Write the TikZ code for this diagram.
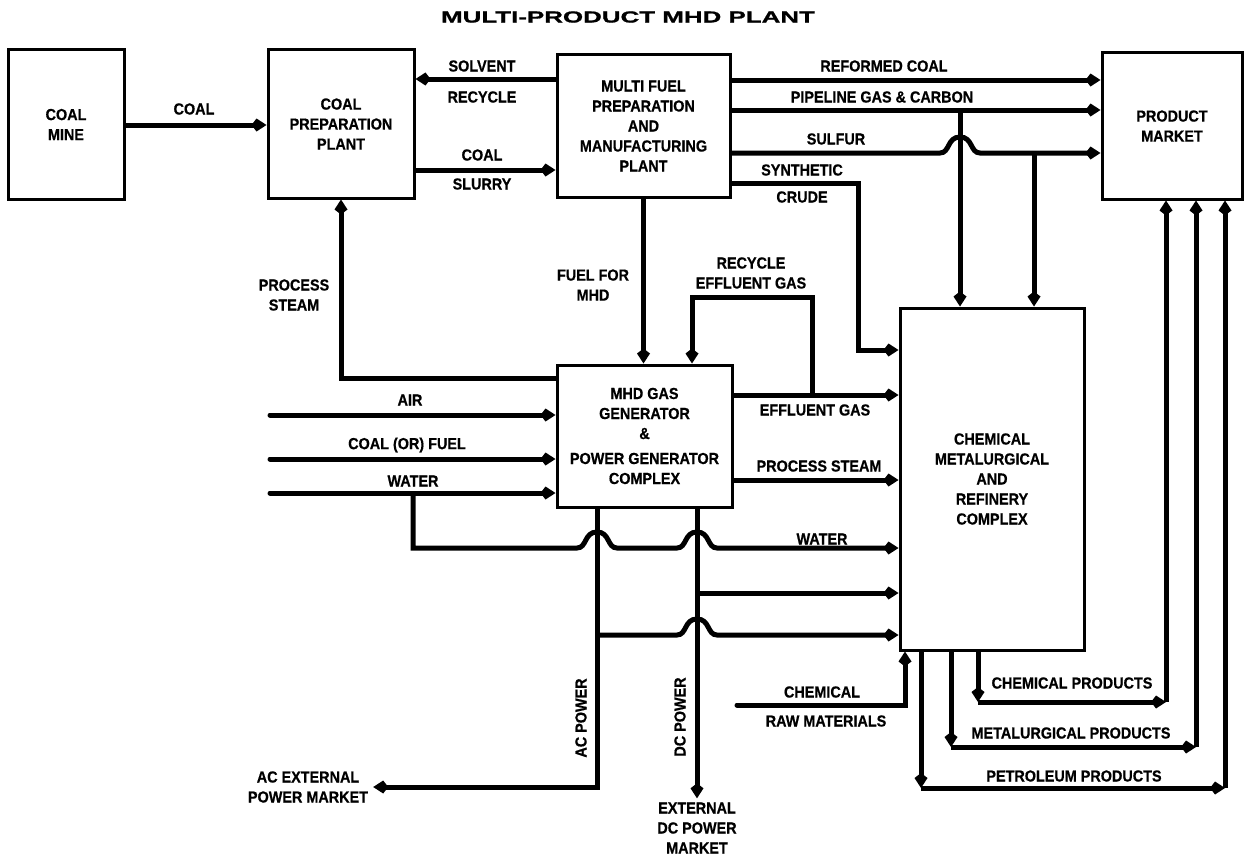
\documentclass[tikz,border=0pt]{standalone}
\usepackage{fontspec}
\setmainfont{Liberation Sans}[FakeStretch=0.9,FakeBold=0.6]
\newfontfamily\titlefont{Liberation Sans}[FakeStretch=1.62,FakeBold=1.2]
\usetikzlibrary{arrows.meta}
\newcommand\lbl{\bfseries\fontsize{16}{20}\selectfont}
\tikzset{
  box/.style={draw, line width=3pt, fill=white, align=center, inner sep=0pt, font=\lbl},
  lab/.style={font=\lbl, inner sep=0pt, align=center},
  wire/.style={line width=5pt, line join=miter},
  flow/.style={wire, -{Kite[length=15pt,width=13pt,inset=5pt]}},
  rflow/.style={flow, line cap=round},
}
\begin{document}
\begin{tikzpicture}[x=1pt,y=-1pt]
\fill[white] (0,0) rectangle (1247,859);
\useasboundingbox (0,0) rectangle (1247,859);

\node[font=\titlefont\bfseries\fontsize{16}{18}\selectfont] (title) at (628,17) {MULTI-PRODUCT MHD PLANT};

% boxes
\node[box,minimum width=116pt,minimum height=149pt] (mine) at (66,124.5) {COAL\\MINE};
\node[box,minimum width=146pt,minimum height=148pt] (prep) at (341,124) {COAL\\PREPARATION\\PLANT};
\node[box,minimum width=173pt,minimum height=142pt] (mfuel) at (643.5,126) {MULTI FUEL\\PREPARATION\\AND\\MANUFACTURING\\PLANT};
\node[box,minimum width=140pt,minimum height=146pt] (market) at (1172,126) {PRODUCT\\MARKET};
\node[box,minimum width=175pt,minimum height=142pt] (mhd) at (644.5,436) {MHD GAS\\GENERATOR\\\&\\[5pt]POWER GENERATOR\\COMPLEX};
\node[box,minimum width=184pt,minimum height=342pt] (chem) at (992,479) {CHEMICAL\\METALURGICAL\\AND\\REFINERY\\COMPLEX};

% coal
\draw[flow] (mine.east |- 0,125) -- (prep.west |- 0,125);
\node[lab] (lcoal) at (194,109) {COAL};
% solvent recycle
\draw[flow] (mfuel.west |- 0,79) -- (prep.east |- 0,79);
\node[lab] (lsolv) at (482,66) {SOLVENT};
\node[lab] (lrecy) at (482,97) {RECYCLE};
% coal slurry
\draw[flow] (prep.east |- 0,170) -- (mfuel.west |- 0,170);
\node[lab] (lcoal2) at (482,155) {COAL};
\node[lab] (lslur) at (482,184) {SLURRY};
% reformed coal
\draw[flow] (mfuel.east |- 0,80) -- (market.west |- 0,80);
\node[lab] (lref) at (884,66) {REFORMED COAL};
% pipeline gas
\draw[flow] (mfuel.east |- 0,110) -- (market.west |- 0,110);
\node[lab] (lpipe) at (882,97) {PIPELINE GAS \& CARBON};
% sulfur with hop
\draw[flow] (mfuel.east |- 0,153) -- (940,153) .. controls (950,153) and (947,137) .. (960,137) .. controls (973,137) and (970,153) .. (980,153) -- (market.west |- 0,153);
\node[lab] (lsulf) at (836,139) {SULFUR};
% branches to chemical complex
\coordinate (pj) at (960,110);
\coordinate (sj) at (1034,153);
\draw[flow] (pj) -- (chem.north -| pj);
\draw[flow] (sj) -- (chem.north -| sj);
% synthetic crude
\draw[flow] (mfuel.east |- 0,183) -- (858,183) -- (858,350) -- (chem.west |- 0,350);
\node[lab] (lsyn) at (802,170) {SYNTHETIC};
\node[lab] (lcru) at (802,197) {CRUDE};
% fuel for mhd
\draw[flow] (mfuel.south) -- (mfuel.south |- mhd.north);
\node[lab] (lfuel) at (593,285) {FUEL FOR\\MHD};
% process steam to coal prep
\draw[flow] (mhd.west |- 0,378) -- (341,378) -- (prep.south);
\node[lab] (lps) at (294,295) {PROCESS\\STEAM};
% effluent gas
\draw[flow] (mhd.east |- 0,395) -- (chem.west |- 0,395);
\node[lab] (leff) at (815,410) {EFFLUENT GAS};
% recycle effluent gas
\coordinate (rj) at (812,395);
\draw[flow] (rj) -- (812,297) -- (692,297) -- (692,0 |- mhd.north);
\node[lab] (lrec) at (751,273) {RECYCLE\\EFFLUENT GAS};
% process steam to chem
\draw[flow] (mhd.east |- 0,480) -- (chem.west |- 0,480);
\node[lab] (lps2) at (819,466) {PROCESS STEAM};
% inputs
\coordinate (ia) at (270,415);
\coordinate (ic) at (270,459);
\coordinate (iw) at (270,493);
\draw[rflow] (ia) -- (mhd.west |- ia);
\draw[rflow] (ic) -- (mhd.west |- ic);
\draw[rflow] (iw) -- (mhd.west |- iw);
\node[lab] (lair) at (410,400) {AIR};
\node[lab] (lcof) at (407,445) {COAL (OR) FUEL};
\node[lab] (lwat) at (413,481) {WATER};
% water branch
\coordinate (wj) at (413,493);
\draw[flow] (wj) -- (413,548) -- (577,548) .. controls (587,548) and (584,532) .. (597,532) .. controls (610,532) and (607,548) .. (617,548) -- (677,548) .. controls (687,548) and (684,532) .. (697,532) .. controls (710,532) and (707,548) .. (717,548) -- (chem.west |- 0,548);
\node[lab] (lwat2) at (822,539) {WATER};
% AC power
\node[lab, inner sep=5pt] (acmkt) at (308,787) {AC EXTERNAL\\POWER MARKET};
\draw[flow] (mhd.south -| 597,0) -- (597,787) -- (acmkt.east);
\node[lab, rotate=90] (lac) at (581,718) {AC POWER};
% DC power
\node[lab, inner sep=4pt] (dcmkt) at (697,828) {EXTERNAL\\DC POWER\\MARKET};
\draw[flow] (mhd.south -| dcmkt.north) -- (dcmkt.north);
\node[lab, rotate=90] (ldc) at (680,717) {DC POWER};
% DC branch to chem
\coordinate (dj) at (697,593);
\draw[flow] (dj) -- (chem.west |- dj);
% AC branch to chem
\coordinate (aj) at (597,635);
\draw[flow] (aj) -- (677,635) .. controls (687,635) and (684,619) .. (697,619) .. controls (710,619) and (707,635) .. (717,635) -- (chem.west |- aj);
% chemical raw materials
\coordinate (cr) at (737,705);
\draw[rflow] (cr) -- (905,705) -- (905,0 |- chem.south);
\node[lab] (lchr) at (822,692) {CHEMICAL};
\node[lab] (lraw) at (826,721) {RAW MATERIALS};
% products
\draw[flow] (chem.south -| 978,0) -- (978,702);
\draw[flow] (978,702) -- (1166,702);
\draw[flow] (1166,702) -- (market.south -| 1166,0);
\node[lab] (lcp) at (1072,683) {CHEMICAL PRODUCTS};
\draw[flow] (chem.south -| 951,0) -- (951,747);
\draw[flow] (951,747) -- (1196,747);
\draw[flow] (1196,747) -- (market.south -| 1196,0);
\node[lab] (lmp) at (1071,733) {METALURGICAL PRODUCTS};
\draw[flow] (chem.south -| 921,0) -- (921,788);
\draw[flow] (921,788) -- (1225,788);
\draw[flow] (1225,788) -- (market.south -| 1225,0);
\node[lab] (lpp) at (1074,776) {PETROLEUM PRODUCTS};
\end{tikzpicture}
\end{document}
